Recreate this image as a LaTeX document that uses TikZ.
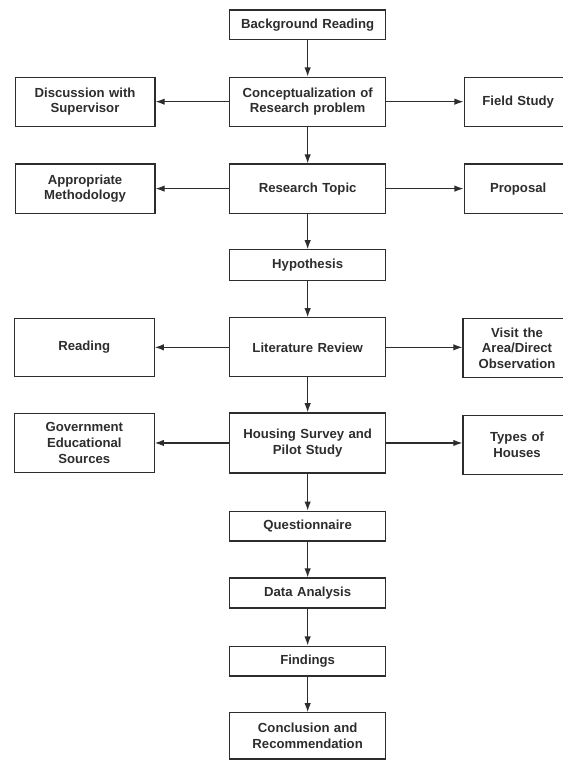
\documentclass[tikz,border=0pt]{standalone}
\usepackage{fontspec}
\setmainfont{Liberation Sans}
\usepackage{xcolor}
\usepackage{tikz}
\usetikzlibrary{arrows.meta}
\definecolor{flowink}{RGB}{45,45,45}

\begin{document}
\begin{tikzpicture}[
    b/.style={draw=flowink, line width=0.9pt, text=flowink, align=center,
              inner sep=0pt, font=\fontsize{9.9}{11.8}\selectfont\bfseries},
    mid/.style={b, text width=4.12cm},
    lbox/.style={b, text width=3.70cm},
    rbox/.style={b, text width=2.86cm},
    a/.style={-{Latex[length=2.4mm,width=1.7mm]}, line width=0.85pt, flowink}]
    \useasboundingbox (0,0) rectangle (14.896,-20.135);
    % main column
    \node[mid, minimum height=0.79cm] (bgr) at (8.14,-0.66)  {Background Reading};
    \node[mid, minimum height=1.30cm] (con) at (8.14,-2.69)  {Conceptualization of\\Research problem};
    \node[mid, minimum height=1.30cm] (top) at (8.14,-4.99)  {Research Topic};
    \node[mid, minimum height=0.82cm] (hyp) at (8.14,-7.02)  {Hypothesis};
    \node[mid, minimum height=1.56cm] (lit) at (8.14,-9.19)  {Literature Review};
    \node[mid, minimum height=1.59cm] (hou) at (8.14,-11.72) {Housing Survey and\\Pilot Study};
    \node[mid, minimum height=0.79cm] (que) at (8.14,-13.92) {Questionnaire};
    \node[mid, minimum height=0.79cm] (dat) at (8.14,-15.69) {Data Analysis};
    \node[mid, minimum height=0.79cm] (fin) at (8.14,-17.49) {Findings};
    \node[mid, minimum height=1.22cm] (clu) at (8.14,-19.47) {Conclusion and\\Recommendation};
    % left column
    \node[lbox, minimum height=1.30cm] (dis) at (2.25,-2.69)  {Discussion with\\Supervisor};
    \node[lbox, minimum height=1.30cm] (met) at (2.25,-4.99)  {Appropriate\\Methodology};
    \node[lbox, minimum height=1.54cm] (rea) at (2.23,-9.19)  {Reading};
    \node[lbox, minimum height=1.56cm] (gov) at (2.23,-11.72) {Government\\Educational\\Sources};
    % right column
    \node[rbox, minimum height=1.30cm] (fie) at (13.71,-2.69)  {Field Study};
    \node[rbox, minimum height=1.30cm] (pro) at (13.71,-4.99)  {Proposal};
    \node[rbox, minimum height=1.56cm] (vis) at (13.68,-9.21)  {Visit the\\Area/Direct\\Observation};
    \node[rbox, minimum height=1.56cm] (typ) at (13.68,-11.77) {Types of\\Houses};
    % arrows
    \draw[a] (bgr) -- (con);
    \draw[a] (con) -- (top);
    \draw[a] (top) -- (hyp);
    \draw[a] (hyp) -- (lit);
    \draw[a] (lit) -- (hou);
    \draw[a] (hou) -- (que);
    \draw[a] (que) -- (dat);
    \draw[a] (dat) -- (fin);
    \draw[a] (fin) -- (clu);
    \draw[a] (con) -- (dis);
    \draw[a] (con) -- (fie);
    \draw[a] (top) -- (met);
    \draw[a] (top) -- (pro);
    \draw[a] (lit) -- (rea);
    \draw[a] (lit.east) -- (vis.west |- lit.east);
    \draw[a] (hou) -- (gov);
    \draw[a] (hou.east) -- (typ.west |- hou.east);
\end{tikzpicture}
\end{document}
